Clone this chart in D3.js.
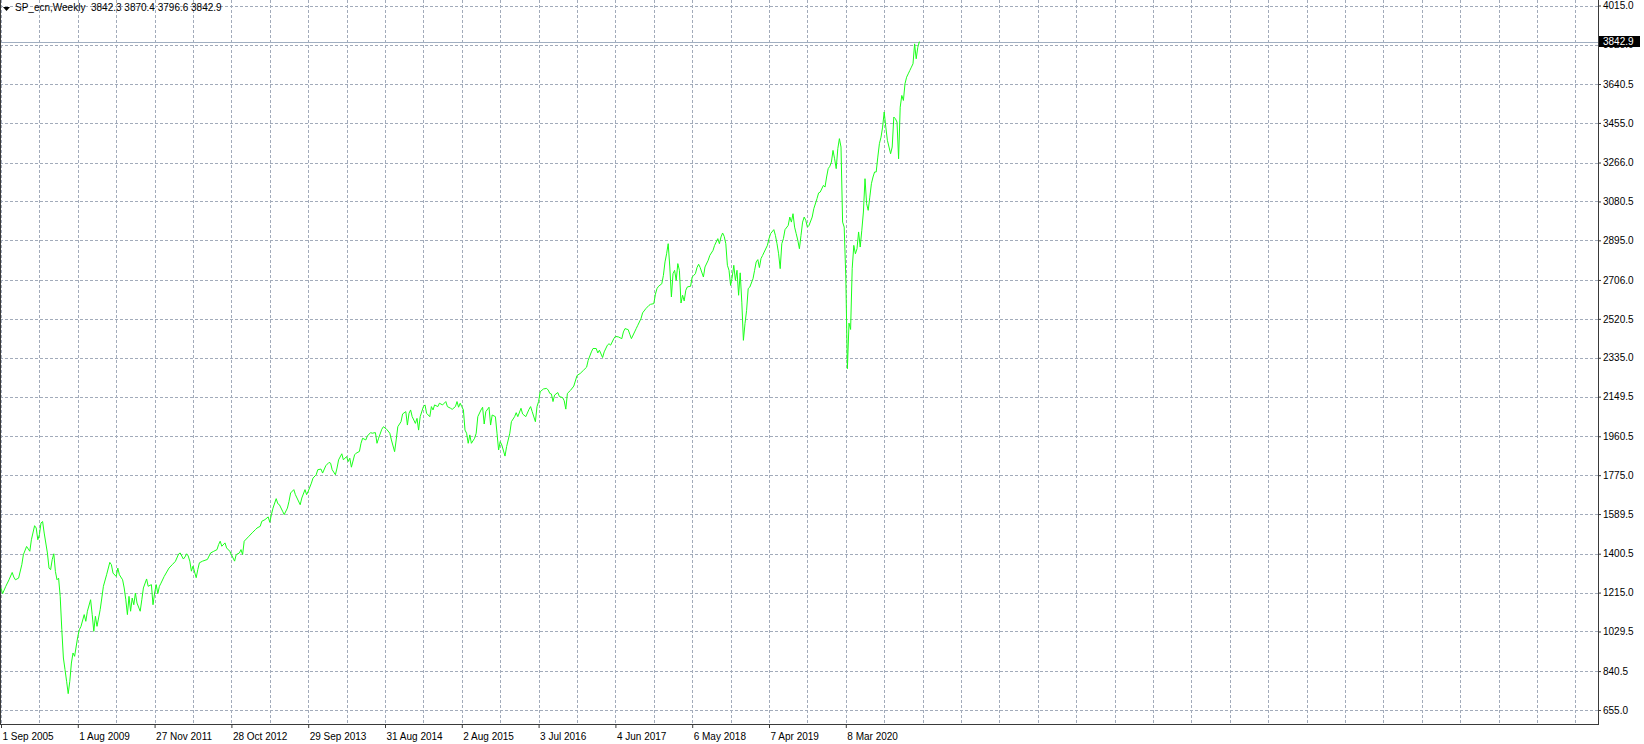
<!DOCTYPE html>
<html>
<head>
<meta charset="utf-8">
<script src="https://cdn.jsdelivr.net/npm/d3@7"></script>
<style>
  html, body { margin: 0; padding: 0; background: #ffffff; }
  svg { display: block; }
  text { font-family: "Liberation Sans", Arial, sans-serif; font-size: 10px; }
</style>
</head>
<body>
<script>
// ---------- data ----------
const symbolTitle = "SP_ecn,Weekly  3842.3 3870.4 3796.6 3842.9";
const lastPrice = 3842.9;

// bar number (weekly bars, left to right) and close price
const barIndex = [
  0,1,3,5,7,8,9,11,13,14,16,18,19,21,22,23,24,25,26,27,29,30,31,32,33,34,35,36,37,38,39,40,41,42,43,44,45,46,48,49,50,52,53,54,56,57,58,59,60,62,63,64,66,68,69,70,72,73,74,76,77,78,79,80,81,82,83,84,85,87,88,89,91,92,94,95,96,97,98,99,100,102,105,107,109,111,112,114,115,116,117,118,
  119,120,122,123,124,126,129,131,133,135,136,137,138,140,141,143,144,146,147,149,150,151,152,155,157,159,160,162,163,165,167,168,169,170,172,173,174,176,177,179,180,181,183,184,185,187,188,190,191,192,194,195,197,198,200,201,203,205,206,207,209,210,211,213,214,216,217,218,219,221,222,224,225,226,228,229,231,232,234,
  235,236,238,239,241,243,244,246,247,248,250,251,253,254,255,256,257,259,260,261,262,264,265,266,268,269,270,271,273,274,276,278,279,281,282,284,285,286,287,288,289,290,291,292,293,294,296,297,298,300,301,302,303,305,306,307,309,310,311,312,313,315,316,318,319,321,322,323,325,326,328,330,331,332,334,335,336,337,339,341,342,343,344,345,346,348,349,
  351,352,353,354,356,358,360,362,364,366,
  367,369,370,372,373,374,376,377,379,380,381,383,384,386,388,389,390,392,393,394,396,397,398,400,401,403,405,406,408,409,410,411,413,414,415,416,417,418,419,420,421,422,423,424,425,426,427,428,429,431,432,433,434,435,436,437,439,440,442,443,445,446,448,449,450,451,452,
  453,454,455,456,457,458,459,460,461,462,463,464,465,466,
  467,468,470,471,472,473,474,475,476,477,479,480,481,483,484,485,486,487,488,489,490,492,493,494,495,496,497,498,499,500,501,502,503,504,505,507,508,510,511,512,514,515,516,517,518,519,520,521,522,523,524,525,526,527,528,529,530,531,532,533,534,535,536,537,538,539,540,541,542,543,544,545,546,547,548,549,550,551,552,553,554,555,556,557,558,559,560,561,562,563,564,565,566,567,568,569,570,571,572,573,574
];
const closePrice = [
  1237,1210,1245,1276,1311,1289,1276,1284,1348,1396,1435,1412,1467,1534,1523,1467,1491,1547,1554,1499,1404,1332,1324,1372,1400,1316,1276,1284,1197,1038,903,848,792,733,792,879,927,911,1006,1038,1054,1110,1078,1126,1181,1110,1030,1102,1054,1134,1189,1245,1300,1359,1348,1308,1292,1332,1300,1276,1237,1181,1110,1197,1126,1189,1157,1213,1165,1126,1181,1237,1280,1245,1253,1157,1213,1253,1210,1245,1260,1292,1332,1348,1364,1399,1404,1375,1385,1400,1390,1365,
  1317,1341,1286,1325,1357,1365,1373,1404,1412,1420,1444,1460,1436,1452,1428,1412,1396,1365,1396,1404,1420,1396,1460,1484,1500,1515,1523,1531,1555,1563,1576,1550,1587,1618,1663,1639,1634,1603,1587,1618,1650,1690,1706,1682,1666,1634,1666,1706,1682,1698,1737,1761,1777,1801,1804,1785,1820,1836,1832,1801,1777,1809,1848,1877,1848,1864,1840,1856,1813,1872,1880,1888,1927,1951,1943,1962,1978,1975,1978,
  1927,1951,1994,2006,1994,1975,1943,1887,1943,2006,2030,2067,2078,2014,2070,2086,2054,2022,2046,1990,2054,2102,2110,2070,2054,2102,2086,2110,2102,2118,2110,2126,2102,2094,2089,2102,2126,2099,2118,2102,2086,1990,1975,1927,1967,1927,1951,1975,2054,2086,2099,2019,2078,2099,2014,2062,2054,1975,1895,1935,1919,1866,1911,1975,2030,2054,2073,2054,2094,2067,2054,2089,2102,2078,2030,2102,2126,2173,2186,2189,2181,2165,2162,2126,2157,2169,2150,
  2145,2130,2090,2165,2180,2200,2250,2260,2275,2290,
  2323,2363,2379,2379,2358,2371,2336,2363,2395,2402,2395,2426,2437,2434,2426,2458,2474,2469,2447,2426,2458,2474,2490,2522,2549,2569,2585,2590,2593,2638,2665,2676,2688,2728,2792,2831,2879,2768,2625,2736,2752,2704,2784,2752,2596,2633,2606,2657,2673,2676,2720,2728,2736,2765,2781,2765,2720,2768,2800,2823,2847,2871,2903,2879,2911,2930,2914,
  2879,2776,2752,2680,2720,2776,2704,2752,2633,2740,2600,2418,2498,2561,
  2665,2672,2712,2752,2792,2803,2765,2808,2823,2839,2871,2903,2927,2946,2919,2879,2831,2760,2879,2903,2946,2966,3006,2982,3022,2958,2927,2895,2855,2919,2982,3006,2990,2958,2966,3006,3046,3094,3121,3125,3157,3149,3197,3237,3248,3268,3324,3284,3237,3332,3380,3340,2982,2958,2720,2283,2500,2470,2760,2871,2831,2855,2935,2863,2943,3030,3189,3070,3038,3101,3165,3197,3221,3221,3292,3356,3387,3435,3507,3435,3372,3340,3308,3340,3483,3475,3459,3284,3530,3586,3562,3642,3673,3689,3705,3721,3737,3832,3761,3816,3842.9
];

// price scale labels (right side)
const priceTicks = [4015.0, 3828.0, 3640.5, 3455.0, 3266.0, 3080.5, 2895.0, 2706.0, 2520.5, 2335.0, 2149.5, 1960.5, 1775.0, 1589.5, 1400.5, 1215.0, 1029.5, 840.5, 655.0];

// time scale labels (bar number -> date)
const dateBars = [0, 48, 96, 144, 192, 240, 288, 336, 384, 432, 480, 528];
const dateLabels = ["1 Sep 2005", "1 Aug 2009", "27 Nov 2011", "28 Oct 2012", "29 Sep 2013", "31 Aug 2014", "2 Aug 2015", "3 Jul 2016", "4 Jun 2017", "6 May 2018", "7 Apr 2019", "8 Mar 2020"];
const gridBarStep = 24;

// ---------- layout ----------
const W = 1644, H = 744;
const plotRight = 1598, plotBottom = 724;
const barsVisible = 998.125;

const svg = d3.select("body").append("svg").attr("width", W).attr("height", H);
svg.append("rect").attr("width", W).attr("height", H).attr("fill", "#ffffff");

const x = d3.scaleLinear().domain([0, barsVisible]).range([1, plotRight]);
const y = d3.scaleLinear().domain([655, 4015]).range([710, 5.5]);

const gridColor = "#a2abba";
const crisp = v => Math.round(v) + 0.5;

// vertical grid
const gridBars = d3.range(0, barsVisible, gridBarStep);
svg.append("g").selectAll("line").data(gridBars).join("line")
  .attr("x1", d => crisp(x(d))).attr("x2", d => crisp(x(d)))
  .attr("y1", 0).attr("y2", plotBottom)
  .attr("stroke", gridColor).attr("stroke-width", 1).attr("stroke-dasharray", "3,2")
  .attr("shape-rendering", "crispEdges");

// horizontal grid
svg.append("g").selectAll("line").data(priceTicks).join("line")
  .attr("x1", 0).attr("x2", plotRight)
  .attr("y1", d => crisp(y(d))).attr("y2", d => crisp(y(d)))
  .attr("stroke", gridColor).attr("stroke-width", 1).attr("stroke-dasharray", "3,2")
  .attr("shape-rendering", "crispEdges");

// current price line
svg.append("line")
  .attr("x1", 0).attr("x2", plotRight)
  .attr("y1", crisp(y(lastPrice))).attr("y2", crisp(y(lastPrice)))
  .attr("stroke", "#a0aec0").attr("stroke-width", 1).attr("shape-rendering", "crispEdges");

// price line
const series = barIndex.map((b, i) => ({ bar: b, close: closePrice[i] }));
svg.append("path").datum(series)
  .attr("fill", "none").attr("stroke", "#1aff1a").attr("stroke-width", 1)
  .attr("d", d3.line().x(d => x(d.bar)).y(d => y(d.close)));

// frame
const axisColor = "#3a3a3a";
svg.append("line").attr("x1", 0.5).attr("x2", 0.5).attr("y1", 0).attr("y2", plotBottom + 0.5)
  .attr("stroke", axisColor).attr("shape-rendering", "crispEdges");

// right price axis
const yAxis = d3.axisRight(y).tickValues(priceTicks).tickFormat(d3.format(".1f")).tickSize(3).tickPadding(2);
const gy = svg.append("g").attr("transform", `translate(${plotRight},0)`).call(yAxis);
gy.select(".domain").attr("d", `M0.5,0V${plotBottom + 0.5}`).attr("stroke", axisColor).attr("shape-rendering", "crispEdges");
gy.selectAll(".tick line").attr("stroke", axisColor);
gy.selectAll(".tick text").attr("fill", "#000").style("font-family", "Liberation Sans, Arial, sans-serif").style("font-size", "10px");

// bottom time axis
const xAxis = d3.axisBottom(x).tickValues(dateBars).tickFormat((d, i) => dateLabels[i]).tickSize(4).tickPadding(5);
const gx = svg.append("g").attr("transform", `translate(0,${plotBottom})`).call(xAxis);
gx.select(".domain").attr("d", `M0,0.5H${plotRight + 1}`).attr("stroke", axisColor).attr("shape-rendering", "crispEdges");
gx.selectAll(".tick line").attr("stroke", axisColor);
gx.selectAll(".tick text").attr("fill", "#000").attr("text-anchor", "start").attr("x", 1)
  .style("font-family", "Liberation Sans, Arial, sans-serif").style("font-size", "10px");

// last price box
const ly = y(lastPrice);
svg.append("rect").attr("x", plotRight + 1).attr("y", Math.round(ly) - 6).attr("width", 41).attr("height", 11).attr("fill", "#000");
svg.append("text").attr("x", plotRight + 5).attr("y", ly).attr("dy", "0.34em")
  .attr("fill", "#fff").text(d3.format(".1f")(lastPrice));

// title
svg.append("path").attr("d", "M3,7L10,7L6.5,11Z").attr("fill", "#000");
svg.append("text").attr("x", 15).attr("y", 11).attr("fill", "#000")
  .style("white-space", "pre").attr("xml:space", "preserve").style("font-size", "10px")
  .text(symbolTitle);
</script>
</body>
</html>
